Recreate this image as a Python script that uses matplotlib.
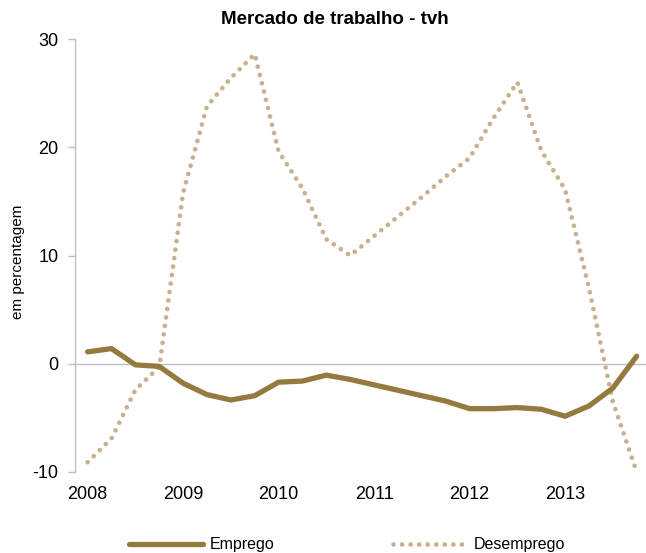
import matplotlib
matplotlib.use("Agg")
import matplotlib.pyplot as plt
import numpy as np

# quarterly data, 2008Q1 .. 2013Q4 (tvh, %)
emprego = [1.1, 1.4, -0.1, -0.25, -1.8, -2.85, -3.35, -2.95, -1.7, -1.6, -1.05, -1.45,
           -1.95, -2.45, -2.95, -3.45, -4.15, -4.15, -4.05, -4.2, -4.85, -3.9, -2.25, 0.7]
desemprego = [-9.1, -6.9, -2.4, -0.3, 15.8, 23.8, 26.4, 28.6, 19.6, 16.2, 11.5, 10.0,
              11.8, 13.6, 15.4, 17.3, 19.0, 22.7, 26.0, 19.7, 16.1, 7.0, -3.5, -10.0]
anos = ["2008", "2009", "2010", "2011", "2012", "2013"]
yticks = [-10, 0, 10, 20, 30]

c_emp = "#957A40"
c_des = "#C8B28E"
c_axis = "#BFBFBF"

plt.rcParams["font.family"] = ["Liberation Sans", "DejaVu Sans"]

fig = plt.figure(figsize=(6.46, 5.53), dpi=100)
ax = fig.add_axes([75 / 646, 1 - 472 / 553, 571 / 646, 433 / 553])

x = np.arange(len(emprego))
ax.plot(x, desemprego, color=c_des, lw=3.4, linestyle=(0, (0.01, 1.8)),
        dash_capstyle="round", label="Desemprego", zorder=2)
ax.plot(x, emprego, color=c_emp, lw=3.8, solid_capstyle="round",
        solid_joinstyle="round", label="Emprego", zorder=3)
ax.axhline(0, color=c_axis, lw=1, zorder=1)

ax.set_xlim(-0.53, 23.39)
ax.set_ylim(-10, 30)
ax.set_yticks(yticks)
ax.set_yticklabels([str(v) for v in yticks], fontsize=13)
ax.set_xticks(np.arange(0, len(emprego), 4))
ax.set_xticklabels(anos, fontsize=13)
ax.tick_params(axis="x", length=0, pad=10)
ax.tick_params(axis="y", length=5, width=1, color=c_axis, pad=7)

for s in ["top", "right", "bottom"]:
    ax.spines[s].set_visible(False)
ax.spines["left"].set_color(c_axis)
ax.spines["left"].set_linewidth(1)

fig.text(18 / 646, 1 - 262 / 553, "em percentagem", rotation=90, ha="center", va="center",
         fontsize=11)
fig.text(335 / 646, 1 - 20 / 553, "Mercado de trabalho - tvh", ha="center", va="center",
         fontsize=13.5, fontweight="bold")

h, l = ax.get_legend_handles_labels()
fig.legend([h[1], h[0]], [l[1], l[0]], loc="center", bbox_to_anchor=(347 / 646, 1 - 545 / 553),
           ncol=2, frameon=False, fontsize=11.5, handlelength=4.6, handletextpad=0.45,
           columnspacing=7.4)

fig.savefig("out.png", dpi=100)
